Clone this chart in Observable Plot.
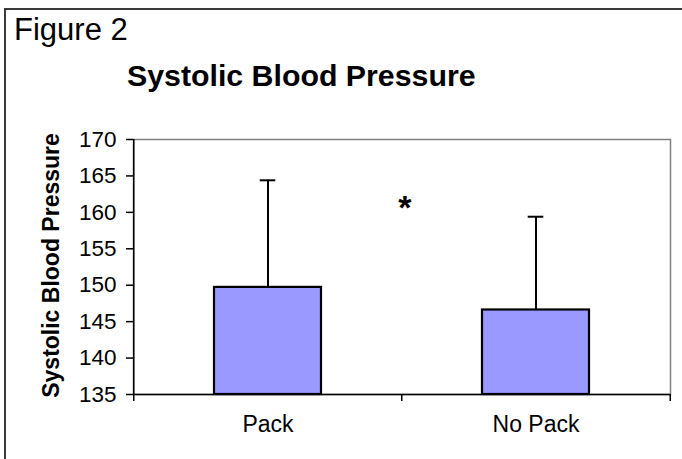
<!DOCTYPE html>
<html>
<head>
<meta charset="utf-8">
<script src="https://cdn.jsdelivr.net/npm/d3@7"></script>
<script src="https://cdn.jsdelivr.net/npm/@observablehq/plot@0.6"></script>
<style>
  html, body { margin: 0; padding: 0; background: #fff; overflow: hidden; }
  #wrap { position: relative; width: 682px; height: 459px; overflow: hidden; background: #fff; }
  #chart { position: absolute; left: 0; top: 0; }
  #chart g[aria-label="y-axis tick label"] { font-size: 22.5px !important; }
  #chart g[aria-label="x-axis tick label"] { font-size: 23px !important; }
  .frame { position: absolute; left: 4px; top: 8px; width: 800px; height: 600px;
           border-top: 2px solid #3a3a3a; border-left: 2px solid #3a3a3a; }
  .fig { position: absolute; left: 14px; top: 14px; font: 31px "Liberation Sans", Arial, sans-serif; line-height: 1; color: #000; white-space: nowrap; }
  .title { position: absolute; left: 127px; top: 61px; font: bold 30.3px "Liberation Sans", Arial, sans-serif; line-height: 1; color: #000; white-space: nowrap; }
</style>
</head>
<body>
<div id="wrap">
  <div id="chart"></div>
  <div class="frame"></div>
  <div class="fig">Figure 2</div>
  <div class="title">Systolic Blood Pressure</div>
</div>
<script>
const categories = ["Pack", "No Pack"];
const means = [149.7, 146.6];
const sds = [14.7, 12.8];
const yDomain = [135, 170];
const yTicks = [135, 140, 145, 150, 155, 160, 165, 170];
const yLabel = "Systolic Blood Pressure";
const annotations = [{label: "*", y: 162.4}];

const data = categories.map((c, i) => ({group: c, mean: means[i], sd: sds[i]}));

const W = 682, H = 459;
const mL = 133, mR = 12, mT = 139, mB = 65;
const plotW = W - mL - mR, plotH = H - mT - mB;
const paddingInner = 0.6, paddingOuter = 0.3;
const step = plotW / (categories.length - paddingInner + 2 * paddingOuter);
const half = step / 2;
const bandwidth = step * (1 - paddingInner);
const capW = 16;
const tickLen = 7;

const chart = Plot.plot({
  width: W, height: H,
  marginLeft: mL, marginRight: mR, marginTop: mT, marginBottom: mB,
  style: {fontFamily: "'Liberation Sans', Arial, sans-serif", fontSize: "22px", color: "#000", background: "#fff"},
  x: {domain: categories, paddingInner, paddingOuter},
  y: {domain: yDomain},
  marks: [
    Plot.frame({stroke: "#808080", strokeWidth: 1.5}),
    Plot.axisY({ticks: yTicks, tickSize: tickLen, tickPadding: 10, label: null, strokeWidth: 1.5, fontSize: 22.5}),
    Plot.axisX({tickSize: 0, tickPadding: 21, label: null, fontSize: 23}),
    Plot.barY(data, {x: "group", y1: yDomain[0], y2: "mean", fill: "#9999ff", stroke: "#000", strokeWidth: 2.2}),
    Plot.ruleX(data, {x: "group", y1: "mean", y2: d => d.mean + d.sd, stroke: "#000", strokeWidth: 2}),
    Plot.tickY(data, {x: "group", y: d => d.mean + d.sd, inset: (bandwidth - capW) / 2, stroke: "#000", strokeWidth: 2}),
    Plot.ruleY([yDomain[0]], {stroke: "#000", strokeWidth: 1.5}),
    Plot.ruleX([categories[0]], {x: d => d, dx: -half, stroke: "#000", strokeWidth: 1.5}),
    Plot.ruleX(categories, {x: d => d, dx: -half, insetTop: plotH, insetBottom: -tickLen, stroke: "#000", strokeWidth: 1.5}),
    Plot.ruleX([categories[categories.length - 1]], {x: d => d, dx: half, insetTop: plotH, insetBottom: -tickLen, stroke: "#000", strokeWidth: 1.5}),
    Plot.text(annotations, {x: () => categories[0], y: "y", text: "label", dx: half + 2.5, lineAnchor: "top", fontSize: 34, fontWeight: "bold"}),
    Plot.text([yLabel], {frameAnchor: "left", text: d => d, rotate: -90, textAnchor: "middle", dx: -81.5, dy: -1.5, fontSize: 23, fontWeight: "bold"})
  ]
});
document.getElementById("chart").appendChild(chart);
</script>
</body>
</html>
